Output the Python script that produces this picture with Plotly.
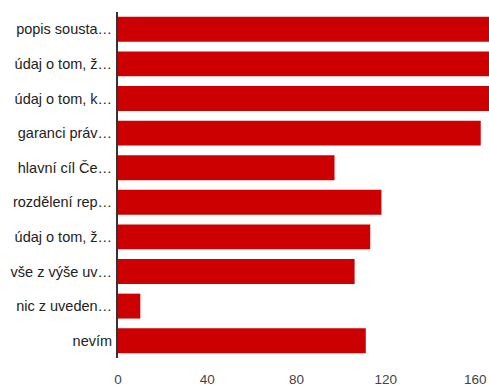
import plotly.graph_objects as go

labels = ["popis sousta…", "údaj o tom, ž…", "údaj o tom, k…", "garanci práv…",
          "hlavní cíl Če…", "rozdělení rep…", "údaj o tom, ž…", "vše z výše uv…",
          "nic z uveden…", "nevím"]
values = [167, 167, 167, 162.5, 97, 118, 113, 106, 10, 111]
xticks = [0, 40, 80, 120, 160]

pos = list(range(len(labels)))

fig = go.Figure(go.Bar(
    x=values, y=pos, orientation="h",
    marker=dict(color="#cc0000", line=dict(width=0)),
    width=0.72,
))
fig.update_layout(
    width=489, height=387,
    margin=dict(l=118, r=0, t=12, b=29),
    paper_bgcolor="white", plot_bgcolor="white",
    showlegend=False,
    font=dict(family="Liberation Sans, Arial, sans-serif", size=13, color="#222"),
)
fig.update_xaxes(range=[0, 166.2], tickvals=xticks, showgrid=False, zeroline=False,
                 showline=False, ticks="", tickfont=dict(size=13.5, color="#444"),
                 ticklabelstandoff=11, automargin=False)
fig.update_yaxes(tickvals=pos, ticktext=labels, range=[9.5, -0.5], showgrid=False,
                 zeroline=False, showline=True, linecolor="#333", linewidth=2,
                 ticks="", ticklabelstandoff=1, tickfont=dict(size=14.5, color="#222"),
                 automargin=False)
fig.write_html("out.html", config={"displayModeBar": False},
               post_script="document.body.style.margin='0';document.body.style.overflow='hidden';")
